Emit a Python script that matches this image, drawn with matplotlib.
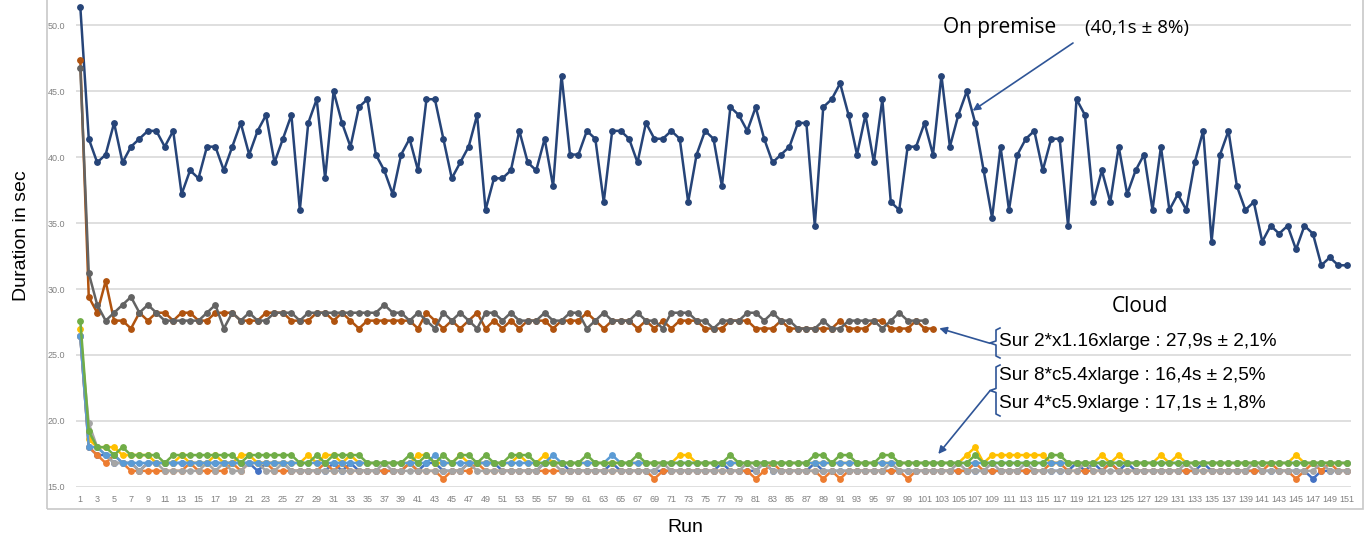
import matplotlib
matplotlib.use("Agg")
import matplotlib.pyplot as plt
from matplotlib.lines import Line2D
from matplotlib.patches import Rectangle, FancyArrowPatch

plt.rcParams['font.family'] = ['Liberation Sans', 'DejaVu Sans']

W, H = 1371, 538

runs = list(range(1, 152))

on_premise = [
    51.4, 41.4, 39.6, 40.2, 42.6, 39.6, 40.8, 41.4, 42.0, 42.0,
    40.8, 42.0, 37.2, 39.0, 38.4, 40.8, 40.8, 39.0, 40.8, 42.6,
    40.2, 42.0, 43.2, 39.6, 41.4, 43.2, 36.0, 42.6, 44.4, 38.4,
    45.0, 42.6, 40.8, 43.8, 44.4, 40.2, 39.0, 37.2, 40.2, 41.4,
    39.0, 44.4, 44.4, 41.4, 38.4, 39.6, 40.8, 43.2, 36.0, 38.4,
    38.4, 39.0, 42.0, 39.6, 39.0, 41.4, 37.8, 46.2, 40.2, 40.2,
    42.0, 41.4, 36.6, 42.0, 42.0, 41.4, 39.6, 42.6, 41.4, 41.4,
    42.0, 41.4, 36.6, 40.2, 42.0, 41.4, 37.8, 43.8, 43.2, 42.0,
    43.8, 41.4, 39.6, 40.2, 40.8, 42.6, 42.6, 34.8, 43.8, 44.4,
    45.6, 43.2, 40.2, 43.2, 39.6, 44.4, 36.6, 36.0, 40.8, 40.8,
    42.6, 40.2, 46.2, 40.8, 43.2, 45.0, 42.6, 39.0, 35.4, 40.8,
    36.0, 40.2, 41.4, 42.0, 39.0, 41.4, 41.4, 34.8, 44.4, 43.2,
    36.6, 39.0, 36.6, 40.8, 37.2, 39.0, 40.2, 36.0, 40.8, 36.0,
    37.2, 36.0, 39.6, 42.0, 33.6, 40.2, 42.0, 37.8, 36.0, 36.6,
    33.6, 34.8, 34.2, 34.8, 33.0, 34.8, 34.2, 31.8, 32.4, 31.8, 31.8,
]

# 2*x1.16xlarge
x1_a = [
    47.4, 29.4, 28.2, 30.6, 27.6, 27.6, 27.0, 28.2, 27.6, 28.2,
    28.2, 27.6, 28.2, 28.2, 27.6, 27.6, 28.2, 28.2, 28.2, 27.6,
    27.6, 27.6, 28.2, 28.2, 28.2, 27.6, 27.6, 27.6, 28.2, 28.2,
    27.6, 28.2, 27.6, 27.0, 27.6, 27.6, 27.6, 27.6, 27.6, 27.6,
    27.0, 28.2, 27.6, 27.0, 27.6, 27.0, 27.6, 28.2, 27.0, 27.6,
    27.0, 27.6, 27.0, 27.6, 27.6, 27.6, 27.0, 27.6, 27.6, 27.6,
    28.2, 27.6, 27.0, 27.6, 27.6, 27.6, 27.0, 27.6, 27.0, 27.6,
    27.0, 27.6, 27.6, 27.6, 27.0, 27.0, 27.0, 27.6, 27.6, 27.6,
    27.0, 27.0, 27.0, 27.6, 27.0, 27.0, 27.0, 27.0, 27.0, 27.0,
    27.6, 27.0, 27.0, 27.0, 27.6, 27.6, 27.0, 27.0, 27.0, 27.6,
    27.0, 27.0,
]
x1_b = [
    46.8, 31.2, 28.8, 27.6, 28.2, 28.8, 29.4, 28.2, 28.8, 28.2,
    27.6, 27.6, 27.6, 27.6, 27.6, 28.2, 28.8, 27.0, 28.2, 27.6,
    28.2, 27.6, 27.6, 28.2, 28.2, 28.2, 27.6, 28.2, 28.2, 28.2,
    28.2, 28.2, 28.2, 28.2, 28.2, 28.2, 28.8, 28.2, 28.2, 27.6,
    28.2, 27.6, 27.0, 28.2, 27.6, 28.2, 27.6, 27.0, 28.2, 28.2,
    27.6, 28.2, 27.6, 27.6, 27.6, 28.2, 27.6, 27.6, 28.2, 28.2,
    27.0, 27.6, 28.2, 27.6, 27.6, 27.6, 28.2, 27.6, 27.6, 27.0,
    28.2, 28.2, 28.2, 27.6, 27.6, 27.0, 27.6, 27.6, 27.6, 28.2,
    28.2, 27.6, 28.2, 27.6, 27.6, 27.0, 27.0, 27.0, 27.6, 27.0,
    27.0, 27.6, 27.6, 27.6, 27.6, 27.0, 27.6, 28.2, 27.6, 27.6,
    27.6,
]

# c5 runs
c5_blue = [
    26.4, 18.0, 17.4, 17.4, 16.8, 16.8, 16.8, 16.2, 16.8, 16.8,
    16.8, 16.8, 16.8, 16.8, 16.8, 16.8, 16.8, 16.8, 16.8, 16.8,
    16.8, 16.2, 16.8, 16.8, 16.8, 16.2, 16.2, 16.2, 16.2, 16.2,
    16.8, 16.2, 16.8, 16.2, 16.2, 16.2, 16.2, 16.2, 16.2, 16.8,
    16.2, 16.8, 16.8, 16.2, 16.2, 16.2, 16.8, 16.8, 16.8, 16.8,
    16.2, 16.2, 16.2, 16.2, 16.2, 16.8, 16.8, 16.8, 16.2, 16.2,
    16.2, 16.2, 16.2, 16.8, 16.2, 16.2, 16.2, 16.2, 16.2, 16.2,
    16.2, 16.2, 16.2, 16.2, 16.2, 16.2, 16.8, 16.2, 16.2, 16.2,
    16.2, 16.8, 16.2, 16.2, 16.2, 16.2, 16.2, 16.8, 16.2, 16.2,
    16.2, 16.2, 16.2, 16.2, 16.2, 16.2, 16.2, 16.2, 16.2, 16.2,
    16.2, 16.2, 16.2, 16.2, 16.2, 16.2, 16.2, 16.2, 16.2, 16.2,
    16.2, 16.2, 16.2, 16.2, 16.2, 16.2, 16.2, 16.2, 16.8, 16.2,
    16.8, 16.2, 16.8, 16.2, 16.8, 16.2, 16.2, 16.2, 16.2, 16.2,
    16.2, 16.2, 16.2, 16.8, 16.2, 16.2, 16.2, 16.2, 16.2, 16.2,
    16.2, 16.2, 16.2, 16.2, 16.2, 16.2, 15.6, 16.2, 16.2, 16.2, 16.2,
]
c5_orange = [
    26.4, 18.0, 17.4, 16.8, 17.4, 16.8, 16.2, 16.2, 16.2, 16.2,
    16.2, 16.2, 16.2, 16.8, 16.2, 16.2, 16.2, 16.2, 16.8, 16.2,
    16.8, 16.8, 16.8, 16.2, 16.2, 16.2, 16.2, 16.2, 16.2, 16.8,
    16.2, 16.8, 16.2, 16.2, 16.2, 16.2, 16.2, 16.2, 16.2, 16.8,
    16.2, 16.2, 16.2, 15.6, 16.2, 16.2, 16.2, 16.8, 16.2, 16.2,
    16.2, 16.2, 16.2, 16.2, 16.2, 16.2, 16.2, 16.2, 16.2, 16.2,
    16.2, 16.2, 16.2, 16.2, 16.2, 16.2, 16.2, 16.2, 15.6, 16.2,
    16.2, 16.2, 16.2, 16.2, 16.2, 16.2, 16.2, 16.2, 16.2, 16.2,
    15.6, 16.2, 16.8, 16.2, 16.2, 16.2, 16.2, 16.2, 15.6, 16.2,
    15.6, 16.2, 16.2, 16.2, 16.2, 16.2, 16.2, 16.2, 15.6, 16.2,
    16.2, 16.2, 16.2, 16.2, 16.2, 16.2, 16.8, 16.2, 16.2, 16.2,
    16.2, 16.2, 16.2, 16.2, 16.2, 16.8, 16.8, 16.2, 16.2, 16.2,
    16.2, 16.2, 16.8, 16.2, 16.2, 16.2, 16.2, 16.2, 16.2, 16.2,
    16.2, 16.2, 16.2, 16.2, 16.2, 16.2, 16.2, 16.2, 16.2, 16.2,
    16.2, 16.8, 16.2, 16.2, 15.6, 16.2, 16.8, 16.2, 16.8, 16.2, 16.2,
]
c5_gray = [
    26.4, 19.8, 18.0, 17.4, 16.8, 16.8, 16.8, 16.2, 16.8, 16.8,
    16.2, 16.2, 16.2, 16.2, 16.2, 16.8, 16.2, 16.8, 16.2, 16.2,
    16.8, 16.8, 16.2, 16.2, 16.8, 16.2, 16.2, 16.2, 16.2, 16.2,
    16.2, 16.2, 16.2, 16.2, 16.2, 16.2, 16.8, 16.2, 16.2, 16.2,
    16.2, 16.2, 16.2, 16.2, 16.2, 16.2, 16.8, 16.2, 16.2, 16.2,
    16.2, 16.2, 16.2, 16.2, 16.2, 16.8, 16.8, 16.2, 16.2, 16.2,
    16.2, 16.2, 16.2, 16.2, 16.2, 16.2, 16.2, 16.2, 16.2, 16.8,
    16.2, 16.2, 16.2, 16.2, 16.2, 16.2, 16.2, 16.2, 16.2, 16.8,
    16.2, 16.8, 16.2, 16.2, 16.2, 16.2, 16.2, 16.2, 16.2, 16.2,
    16.2, 16.2, 16.2, 16.2, 16.2, 16.2, 16.8, 16.2, 16.2, 16.2,
    16.2, 16.2, 16.2, 16.2, 16.8, 16.2, 16.2, 16.2, 16.8, 16.2,
    16.2, 16.2, 16.8, 16.2, 16.2, 16.2, 16.2, 16.2, 16.2, 16.8,
    16.2, 16.2, 16.2, 16.2, 16.2, 16.2, 16.2, 16.2, 16.2, 16.2,
    16.2, 16.8, 16.2, 16.2, 16.2, 16.2, 16.2, 16.2, 16.2, 16.8,
    16.2, 16.2, 16.2, 16.2, 16.2, 16.2, 16.2, 16.8, 16.2, 16.2, 16.2,
]
c5_yellow = [
    27.0, 18.6, 18.0, 18.0, 18.0, 17.4, 17.4, 17.4, 17.4, 16.8,
    16.8, 16.8, 17.4, 16.8, 16.8, 16.8, 17.4, 16.8, 16.8, 17.4,
    17.4, 16.8, 16.8, 16.8, 16.8, 16.8, 16.8, 17.4, 16.8, 17.4,
    17.4, 16.8, 17.4, 16.8, 16.8, 16.8, 16.8, 16.8, 16.8, 16.8,
    17.4, 17.4, 16.8, 16.8, 16.8, 17.4, 16.8, 16.8, 16.8, 16.8,
    16.8, 16.8, 17.4, 16.8, 16.8, 17.4, 16.8, 16.8, 16.8, 16.8,
    16.8, 16.8, 16.8, 16.8, 16.8, 16.8, 16.8, 16.8, 16.8, 16.8,
    16.8, 17.4, 17.4, 16.8, 16.8, 16.8, 16.8, 16.8, 16.8, 16.8,
    16.8, 16.8, 16.8, 16.8, 16.8, 16.8, 16.8, 16.8, 16.8, 16.8,
    16.8, 16.8, 16.8, 16.8, 16.8, 16.8, 16.8, 16.8, 16.8, 16.8,
    16.8, 16.8, 16.8, 16.8, 16.8, 17.4, 18.0, 16.8, 17.4, 17.4,
    17.4, 17.4, 17.4, 17.4, 17.4, 16.8, 16.8, 16.8, 16.8, 16.8,
    16.8, 17.4, 16.8, 17.4, 16.8, 16.8, 16.8, 16.8, 17.4, 16.8,
    17.4, 16.8, 16.8, 16.8, 16.8, 16.8, 16.8, 16.8, 16.8, 16.8,
    16.8, 16.8, 16.8, 16.8, 17.4, 16.8, 16.8, 16.8, 16.8, 16.8, 16.8,
]
c5_lightblue = [
    26.4, 18.0, 18.0, 17.4, 17.4, 16.8, 16.8, 16.8, 16.8, 16.8,
    16.8, 16.8, 16.8, 16.8, 16.8, 16.8, 16.8, 16.8, 16.8, 16.8,
    16.8, 16.8, 16.8, 16.8, 16.8, 16.8, 16.8, 16.8, 16.8, 16.8,
    16.8, 16.8, 16.8, 16.8, 16.8, 16.8, 16.8, 16.8, 16.8, 16.8,
    16.8, 16.8, 17.4, 16.8, 16.8, 16.8, 16.8, 16.8, 16.8, 16.8,
    16.8, 16.8, 16.8, 16.8, 16.8, 16.8, 17.4, 16.8, 16.8, 16.8,
    16.8, 16.8, 16.8, 17.4, 16.8, 16.8, 16.8, 16.8, 16.8, 16.8,
    16.8, 16.8, 16.8, 16.8, 16.8, 16.8, 16.8, 16.8, 16.8, 16.8,
    16.8, 16.8, 16.8, 16.8, 16.8, 16.8, 16.8, 16.8, 16.8, 16.8,
    16.8, 16.8, 16.8, 16.8, 16.8, 16.8, 16.8, 16.8, 16.8, 16.8,
    16.8, 16.8, 16.8, 16.8, 16.8, 16.8, 16.8, 16.8, 16.8, 16.8,
    16.8, 16.8, 16.8, 16.8, 16.8, 16.8, 16.8, 16.8, 16.8, 16.8,
    16.8, 16.8, 16.8, 16.8, 16.8, 16.8, 16.8, 16.8, 16.8, 16.8,
    16.8, 16.8, 16.8, 16.8, 16.8, 16.8, 16.8, 16.8, 16.8, 16.8,
    16.8, 16.8, 16.8, 16.8, 16.8, 16.8, 16.8, 16.8, 16.8, 16.8, 16.8,
]
c5_green = [
    27.6, 19.2, 18.0, 18.0, 17.4, 18.0, 17.4, 17.4, 17.4, 17.4,
    16.8, 17.4, 17.4, 17.4, 17.4, 17.4, 17.4, 17.4, 17.4, 16.8,
    17.4, 17.4, 17.4, 17.4, 17.4, 17.4, 16.8, 16.8, 17.4, 16.8,
    17.4, 17.4, 17.4, 17.4, 16.8, 16.8, 16.8, 16.8, 16.8, 17.4,
    16.8, 17.4, 16.8, 17.4, 16.8, 17.4, 17.4, 16.8, 17.4, 16.8,
    16.8, 17.4, 17.4, 17.4, 16.8, 16.8, 16.8, 16.8, 16.8, 16.8,
    17.4, 16.8, 16.8, 16.8, 16.8, 16.8, 17.4, 16.8, 16.8, 16.8,
    16.8, 16.8, 16.8, 16.8, 16.8, 16.8, 16.8, 17.4, 16.8, 16.8,
    16.8, 16.8, 16.8, 16.8, 16.8, 16.8, 16.8, 17.4, 17.4, 16.8,
    17.4, 17.4, 16.8, 16.8, 16.8, 17.4, 17.4, 16.8, 16.8, 16.8,
    16.8, 16.8, 16.8, 16.8, 16.8, 16.8, 17.4, 16.8, 16.8, 16.8,
    16.8, 16.8, 16.8, 16.8, 16.8, 17.4, 17.4, 16.8, 16.8, 16.8,
    16.8, 16.8, 16.8, 16.8, 16.8, 16.8, 16.8, 16.8, 16.8, 16.8,
    16.8, 16.8, 16.8, 16.8, 16.8, 16.8, 16.8, 16.8, 16.8, 16.8,
    16.8, 16.8, 16.8, 16.8, 16.8, 16.8, 16.8, 16.8, 16.8, 16.8, 16.8,
]

series = [
    (c5_blue, '#4472C4'),
    (c5_orange, '#ED7D31'),
    (c5_gray, '#A5A5A5'),
    (c5_yellow, '#FFC000'),
    (c5_lightblue, '#5B9BD5'),
    (c5_green, '#70AD47'),
    (on_premise, '#264478'),
    (x1_a, '#B0530F'),
    (x1_b, '#636363'),
]


def px(x, y):
    return (x / W, 1 - y / H)


fig = plt.figure(figsize=(W / 100, H / 100), dpi=100)
ax = fig.add_axes([76.1 / W, 51.3 / H, (1350.9 - 76.1) / W, 486.7 / H])

for vals, col in series:
    ax.plot(runs[:len(vals)], vals, color=col, lw=1.8, marker='o',
            markersize=3.9, markeredgecolor=col, markerfacecolor=col)

ax.set_xlim(0.5, 151.5)
ax.set_ylim(15, 51.93)
ax.set_yticks([15, 20, 25, 30, 35, 40, 45, 50])
ax.set_yticklabels(['%.1f' % v for v in [15, 20, 25, 30, 35, 40, 45, 50]])
ax.set_xticks(runs[::2])
ax.set_xticklabels([str(r) for r in runs[::2]])
ax.tick_params(axis='both', length=0, labelsize=6.5, labelcolor='#808080')
ax.tick_params(axis='y', pad=8)
ax.tick_params(axis='x', pad=6)
ax.grid(axis='y', color='#D9D9D9', lw=1.2)
ax.set_axisbelow(True)
for s in ax.spines.values():
    s.set_visible(False)

# chart area border
fig.add_artist(Rectangle(px(46.7, 509), (1363 - 46.7) / W, 509 / H + 0.05,
                         transform=fig.transFigure, fill=False,
                         edgecolor='#C8C8C8', lw=1.2))

fig.text(*px(22, 236), 'Duration in sec', rotation=90, fontsize=14,
         ha='center', va='center')
fig.text(*px(685, 527), 'Run', fontsize=14, ha='center', va='center')

# annotations
acol = '#2F5597'
fig.text(*px(943, 27), 'On premise', fontsize=15, family='Open Sans',
         ha='left', va='center')
fig.text(*px(1085, 28), '(40,1s ± 8%)', fontsize=13.5, family='Open Sans',
         ha='left', va='center')
fig.text(*px(1140, 307), 'Cloud', fontsize=15, family='Open Sans',
         ha='center', va='center')
fig.text(*px(999, 342), 'Sur 2*x1.16xlarge : 27,9s ± 2,1%', fontsize=13.7,
         ha='left', va='center')
fig.text(*px(999, 376), 'Sur 8*c5.4xlarge : 16,4s ± 2,5%', fontsize=13.7,
         ha='left', va='center')
fig.text(*px(999, 403), 'Sur 4*c5.9xlarge : 17,1s ± 1,8%', fontsize=13.7,
         ha='left', va='center')

arrows = [((1073, 43), (972.7, 110.7)),
          ((990, 343.3), (939.3, 328.3)),
          ((990, 390.7), (938.3, 454))]
for start, end in arrows:
    fig.add_artist(FancyArrowPatch(
        px(*start), px(*end), transform=fig.transFigure,
        arrowstyle='-|>', mutation_scale=11, color=acol, lw=1.2,
        shrinkA=0, shrinkB=0))

braces = [(328, 358), (365, 416)]
for top, bot in braces:
    mid = (top + bot) / 2
    xs = [1000, 996, 996, 990, 996, 996, 1000]
    ys = [top, top + 2, mid - 2, mid, mid + 2, bot - 2, bot]
    pts = [px(x, y) for x, y in zip(xs, ys)]
    fig.add_artist(Line2D([p[0] for p in pts], [p[1] for p in pts],
                          transform=fig.transFigure, color=acol, lw=1.2))

fig.savefig('out.png', dpi=100)
